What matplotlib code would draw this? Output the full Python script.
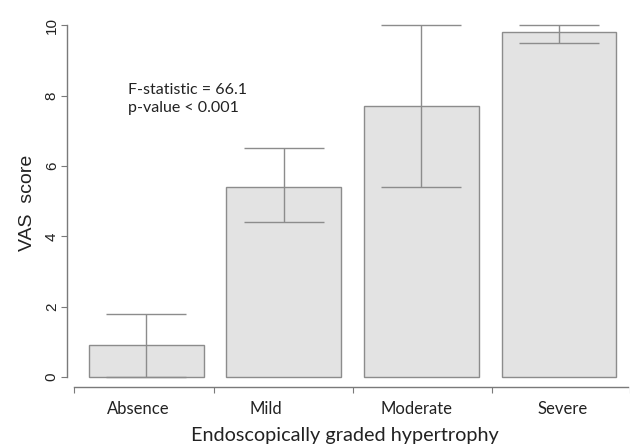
import matplotlib
matplotlib.use("Agg")
import matplotlib.pyplot as plt

# values
categories = ["Absence", "Mild", "Moderate", "Severe"]
vas_mean = [0.9, 5.4, 7.7, 9.8]
err_low = [0.0, 4.4, 5.4, 9.5]
err_high = [1.8, 6.5, 10.0, 10.0]
y_ticks = [0, 2, 4, 6, 8, 10]

# R barplot layout: width 1, space 0.2
bar_x = [0.7 + 1.2 * i for i in range(len(categories))]
label_x = [0.63, 1.74, 3.06, 4.33]
axis_breaks = [0.07, 1.287, 2.504, 3.713, 4.92]

fig = plt.figure(figsize=(6.3, 4.44), dpi=100)
ax = fig.add_axes([60 / 630, 49 / 444, 570 / 630, 385 / 444])

ax.bar(bar_x, vas_mean, width=1.0, color="#e3e3e3", edgecolor="#8c8c8c",
       linewidth=1.0, zorder=2)

lower = [m - lo for m, lo in zip(vas_mean, err_low)]
upper = [hi - m for m, hi in zip(vas_mean, err_high)]
ax.errorbar(bar_x, vas_mean, yerr=[lower, upper], fmt="none",
            ecolor="#8c8c8c", elinewidth=1.0, capsize=29, capthick=1.0, zorder=3)

ax.set_xlim(-0.052, 4.904)
ax.set_ylim(-0.511, 10.43)

for s in ["top", "right"]:
    ax.spines[s].set_visible(False)
ax.spines["left"].set_position(("data", 0.01))
ax.spines["left"].set_bounds(0, 10)
ax.spines["bottom"].set_position(("data", -0.284))
ax.spines["bottom"].set_bounds(axis_breaks[0], 4.904)
for s in ["left", "bottom"]:
    ax.spines[s].set_color("#7a7a7a")
    ax.spines[s].set_linewidth(1.0)

ax.set_yticks(y_ticks)
ax.set_yticklabels([str(t) for t in y_ticks], rotation=90, va="center",
                   fontsize=11, family="Liberation Sans", color="#222222")
ax.tick_params(axis="y", length=4, color="#7a7a7a", pad=2)

ax.set_xticks(axis_breaks)
ax.set_xticklabels([])
ax.tick_params(axis="x", length=4, color="#7a7a7a", direction="out")
ax.set_xticks(label_x, minor=True)
ax.set_xticklabels(categories, minor=True, fontsize=12, family="Lato",
                   color="#222222")
ax.tick_params(axis="x", which="minor", length=0, pad=10)

ax.set_ylabel("VAS  score", fontsize=14, family="Liberation Sans",
              color="#222222", labelpad=6)
ax.set_xlabel("Endoscopically graded hypertrophy", fontsize=14.3,
              family="Lato", color="#222222", labelpad=7)

ax.text(0.54, 7.9, "F-statistic = 66.1\np-value < 0.001", fontsize=11.5,
        family="Lato", color="#222222", va="center", ha="left",
        linespacing=1.35)

fig.savefig("out.png", dpi=100)
